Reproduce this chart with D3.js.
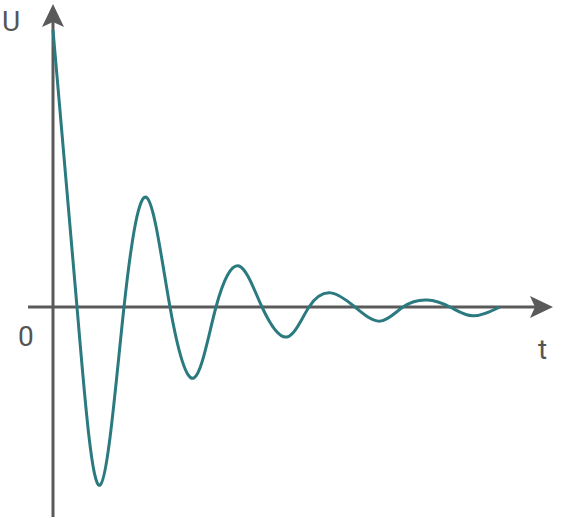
<!DOCTYPE html>
<html>
<head>
<meta charset="utf-8">
<script src="https://cdn.jsdelivr.net/npm/d3@7"></script>
<style>
  body { margin: 0; background: #fff; }
  text { font-family: Roboto, sans-serif; fill: #555; }
</style>
</head>
<body>
<svg width="568" height="518"></svg>
<script>
// extrema and zero crossings
const times = [0, 0.48, 0.94, 1.42, 1.88, 2.34, 2.82, 3.26, 3.72, 4.18, 4.68, 5.12, 5.56, 6.04, 6.54, 7.0, 7.48, 7.94, 8.4, 8.94];
const voltages = [1, 0, -0.643, 0, 0.394, 0, -0.256, 0, 0.148, 0, -0.108, 0, 0.051, 0, -0.051, 0, 0.025, 0, -0.032, 0];

const svg = d3.select("svg");
const x = d3.scaleLinear().domain([0, 10]).range([53, 553]);
const y = d3.scaleLinear().domain([-0.75, 1]).range([514.75, 30]);

const axisColor = "#5a5a5a";

// x axis
svg.append("line")
  .attr("x1", 28).attr("x2", 540)
  .attr("y1", y(0)).attr("y2", y(0))
  .attr("stroke", axisColor).attr("stroke-width", 3);
svg.append("path")
  .attr("d", `M553,${y(0)} L530,${y(0) - 11} L535,${y(0)} L530,${y(0) + 11} Z`)
  .attr("fill", axisColor);

// y axis
svg.append("line")
  .attr("x1", x(0)).attr("x2", x(0))
  .attr("y1", 517).attr("y2", 18)
  .attr("stroke", axisColor).attr("stroke-width", 3);
svg.append("path")
  .attr("d", `M${x(0)},4 L${x(0) - 11},27 L${x(0)},22 L${x(0) + 11},27 Z`)
  .attr("fill", axisColor);

svg.append("text").attr("x", 2).attr("y", 31).attr("font-size", 28).text("U");
svg.append("text").attr("x", 18).attr("y", 346).attr("font-size", 28).text("0");
svg.append("text").attr("x", 538).attr("y", 359).attr("font-size", 28).text("t");

const line = d3.line()
  .x((d, i) => x(times[i]))
  .y(d => y(d))
  .curve(d3.curveNatural);

svg.append("path")
  .datum(voltages)
  .attr("d", line)
  .attr("fill", "none")
  .attr("stroke", "#2a7a80")
  .attr("stroke-width", 3);
</script>
</body>
</html>
